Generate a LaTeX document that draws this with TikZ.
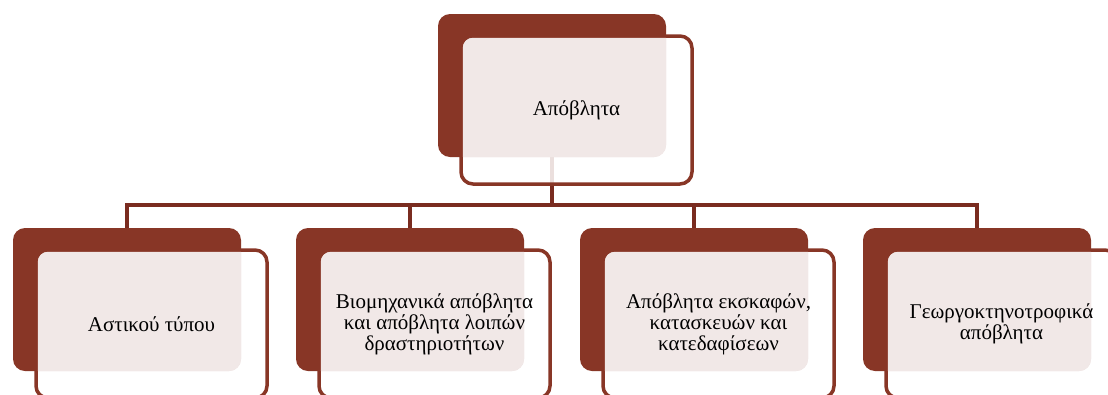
\documentclass[tikz,border=0pt]{standalone}
\usepackage{fontspec}
\setmainfont{Liberation Serif}
\usetikzlibrary{calc}
\definecolor{darkred}{RGB}{136,54,38}
\definecolor{connred}{RGB}{122,44,32}
\definecolor{pinkfill}{RGB}{241,232,231}
\tikzset{
  backbox/.style={fill=darkred, rounded corners=12pt, minimum width=228pt, minimum height=143pt, inner sep=0pt, outer sep=0pt, anchor=north west},
  frontbox/.style={draw=darkred, line width=3.5pt, fill=white, fill opacity=0.85, rounded corners=12pt, minimum width=231pt, minimum height=148pt, inner sep=0pt, outer sep=0pt, anchor=north west},
  label/.style={align=center, font=\fontsize{21}{21}\selectfont, text=black},
  conn/.style={draw=connred, line width=4pt},
}
\newcommand\wasteunit[4]{%
  \node[backbox] (#1b) at (#2,#3) {};
  \node[frontbox] (#1f) at ($(#1b.north west)+(23,22)$) {};
  \begin{scope}
    \clip[rounded corners=12pt] (#1b.north west) rectangle (#1b.south east);
    \fill[pinkfill, rounded corners=10pt] ($(#1f.north west)+(1.8,1.8)$) rectangle ($(#1f.south east)+(-1.8,-1.8)$);
  \end{scope}
  \node[label] (#1t) at (#1f.center) {#4};
}
\begin{document}
\begin{tikzpicture}[x=1pt,y=-1pt]
\useasboundingbox (0,0) rectangle (1108,394);
\clip (0,0) rectangle (1108,394);
% connectors (drawn first, beneath boxes)
\coordinate (topc) at (552,157);
\coordinate (bus) at (552,205);
\coordinate (c1) at (127,228);
\coordinate (c2) at (410,228);
\coordinate (c3) at (694,228);
\coordinate (c4) at (977,228);
\draw[conn] (topc) -- (bus);
\draw[conn] (c1) |- (bus) -| (c4);
\draw[conn] (c2) -- (c2 |- bus);
\draw[conn] (c3) -- (c3 |- bus);
% boxes
\wasteunit{top}{438}{14}{Απόβλητα}
\wasteunit{a}{13}{228}{Αστικού τύπου}
\wasteunit{b}{296}{228}{Βιομηχανικά απόβλητα\\και απόβλητα λοιπών\\δραστηριοτήτων}
\wasteunit{c}{580}{228}{Απόβλητα εκσκαφών,\\κατασκευών και\\κατεδαφίσεων}
\wasteunit{d}{863}{228}{Γεωργοκτηνοτροφικά\\απόβλητα}
\end{tikzpicture}
\end{document}
